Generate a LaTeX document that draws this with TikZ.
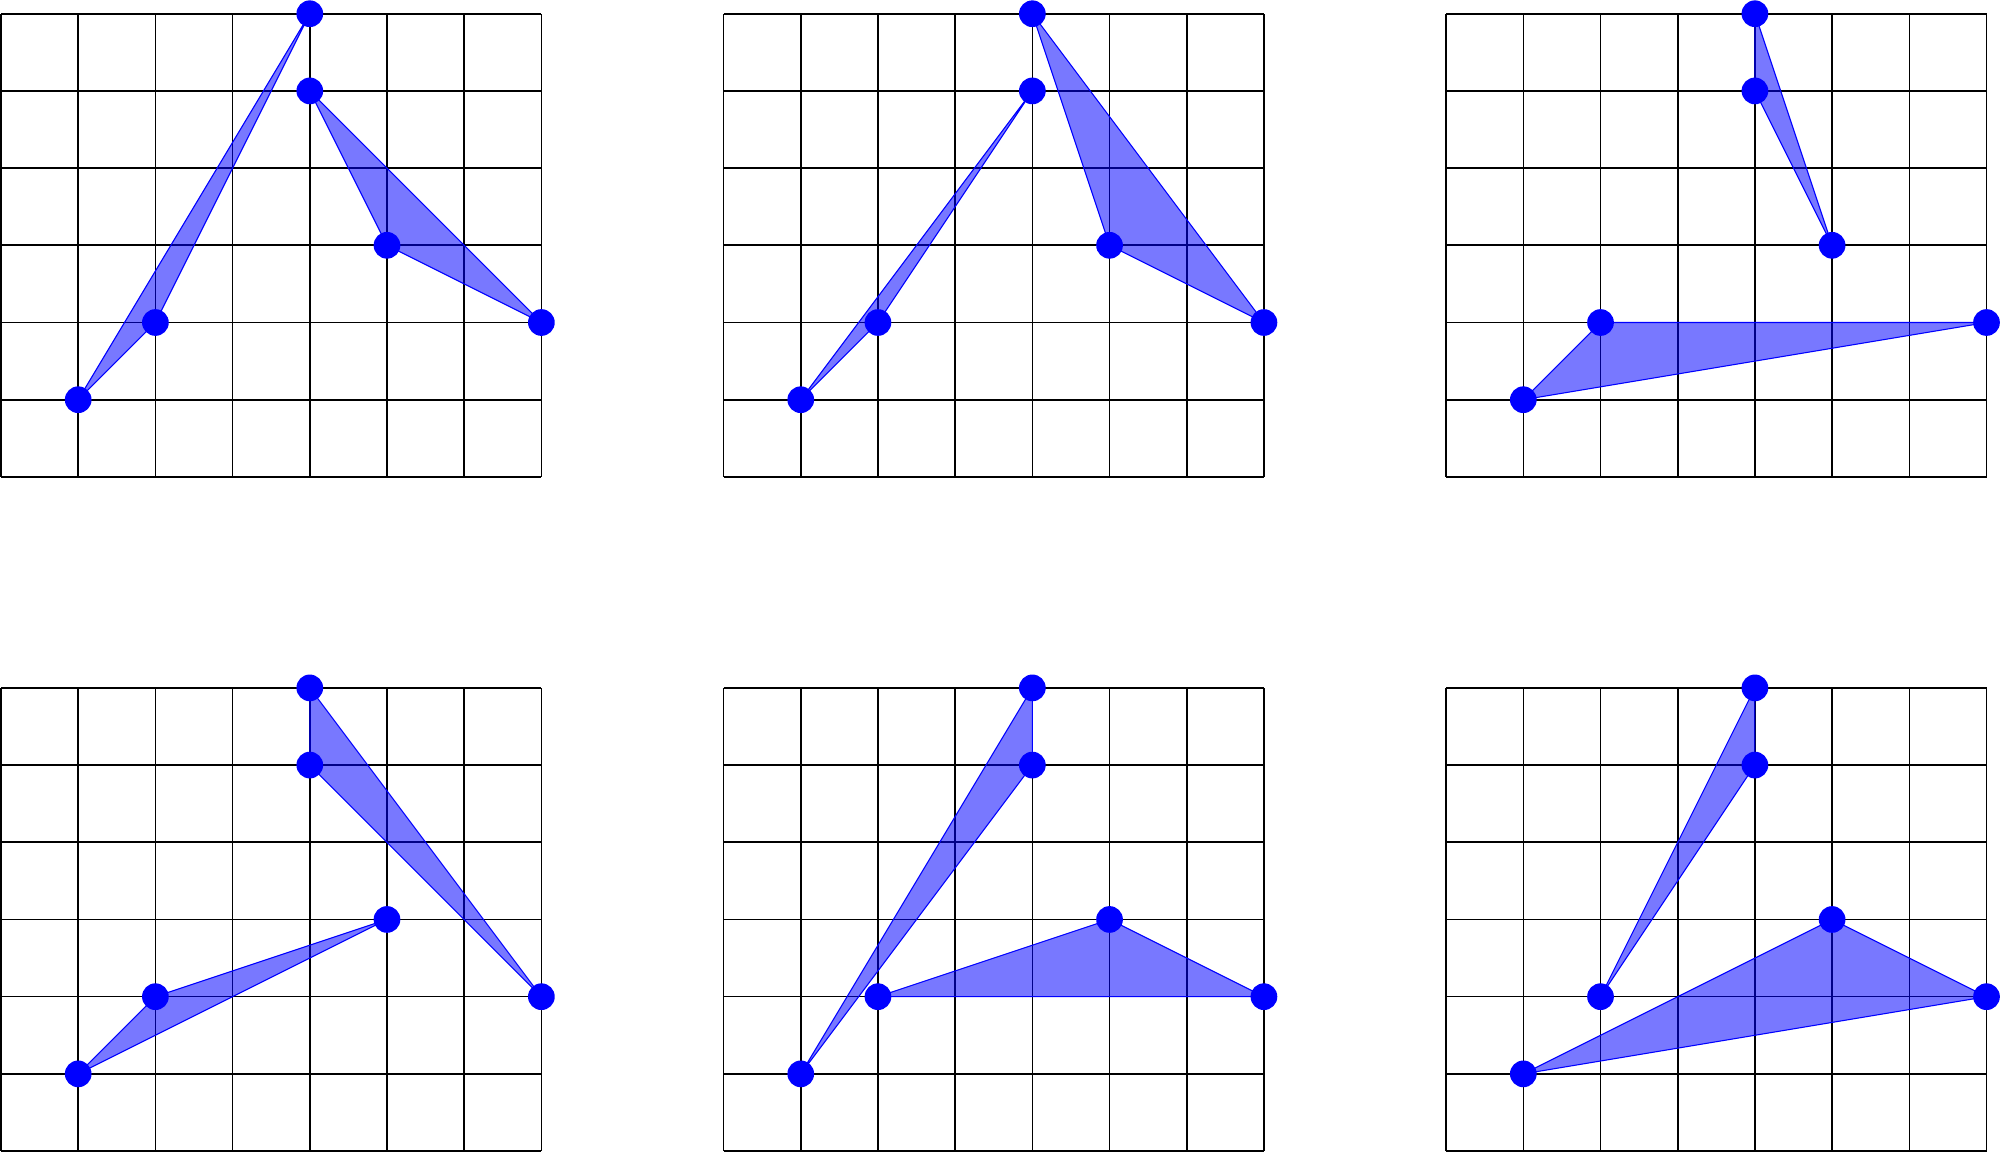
\documentclass[tikz,border=0pt]{standalone}
\tikzset{
  gridline/.style={black, line width=0.6pt},
  tri/.style={draw=blue, line width=0.4pt, line join=round, fill=blue, fill opacity=0.53},
  dot/.style={circle, fill=blue, draw=none, inner sep=0pt, minimum size=0.346cm},
}
\begin{document}
\begin{tikzpicture}
\useasboundingbox (-0.013,-0.013) rectangle (25.895,14.911);
\foreach \px/\py/\n/\ta/\tb/\tc/\ua/\ub/\uc in {
  0/8.733/1/F/A/E/B/D/C,
  9.36/8.733/2/F/B/E/A/D/C,
  18.72/8.733/3/A/B/C/F/E/D,
  0/0/4/A/B/D/F/E/C,
  9.36/0/5/F/A/B/E/C/D,
  18.72/0/6/E/A/B/F/C/D}{
  \begin{scope}[shift={(\px,\py)}]
    \draw[gridline] (0,0) grid (7,6);
    \coordinate (A\n) at (4,6);
    \coordinate (B\n) at (4,5);
    \coordinate (C\n) at (5,3);
    \coordinate (D\n) at (7,2);
    \coordinate (E\n) at (2,2);
    \coordinate (F\n) at (1,1);
    \filldraw[tri] (\ta\n) -- (\tb\n) -- (\tc\n) -- cycle;
    \filldraw[tri] (\ua\n) -- (\ub\n) -- (\uc\n) -- cycle;
    \foreach \p in {A,B,C,D,E,F}{
      \node[dot] (dot\p\n) at (\p\n) {};
    }
  \end{scope}
}
\end{tikzpicture}
\end{document}
